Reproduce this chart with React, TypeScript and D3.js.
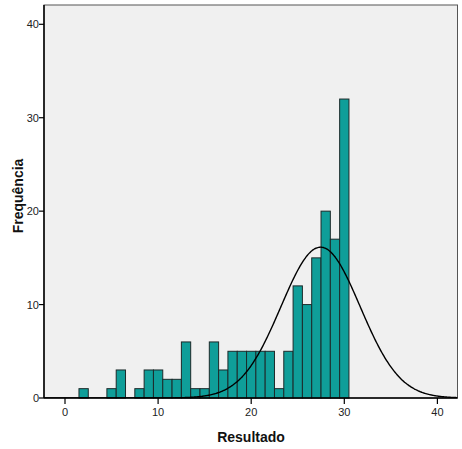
import React from "react";
import * as d3 from "d3";

const binValues = [2, 5, 6, 8, 9, 10, 11, 12, 13, 14, 15, 16, 17, 18, 19, 20, 21, 22, 23, 24, 25, 26, 27, 28, 29, 30];
const binCounts = [1, 1, 3, 1, 3, 3, 2, 2, 6, 1, 1, 6, 3, 5, 5, 5, 5, 5, 1, 5, 12, 10, 15, 20, 17, 32];
const xTicks = [0, 10, 20, 30, 40];
const yTicks = [0, 10, 20, 30, 40];
const curveMean = 27.45;
const curveSd = 4.25;
const curveN = 172;

export default function App() {
  const W = 462, H = 449;
  const left = 44, right = 457.5, top = 5, bottom = 398;
  const x = d3.scaleLinear().domain([0, 10]).range([65, 158.1]);
  const y = d3.scaleLinear().domain([0, 40]).range([bottom, 24.3]);
  const xMin = x.invert(left), xMax = x.invert(right);

  const pts: [number, number][] = [];
  for (let v = xMin; v <= xMax + 0.001; v += 0.1) {
    const d = (curveN / (curveSd * Math.sqrt(2 * Math.PI))) * Math.exp(-0.5 * ((v - curveMean) / curveSd) ** 2);
    pts.push([v, d]);
  }
  const line = d3.line<[number, number]>().x(d => x(d[0])).y(d => y(d[1])).curve(d3.curveBasis);

  return (
    <svg width={W} height={H} style={{ position: "absolute", left: 0, top: 0 }} fontFamily="Arial, Liberation Sans, sans-serif">
      <rect x={left} y={top} width={right - left} height={bottom - top} fill="#f0f0f0" stroke="#555" strokeWidth={1} />
      {binValues.map((v, i) => (
        <rect key={i} x={x(v - 0.5)} y={y(binCounts[i])} width={x(v + 0.5) - x(v - 0.5)} height={bottom - y(binCounts[i])}
          fill="#0f9e99" stroke="#1d2a2a" strokeWidth={1} />
      ))}
      <clipPath id="clip"><rect x={left} y={top} width={right - left} height={bottom - top} /></clipPath>
      <path d={line(pts) || ""} fill="none" stroke="#000" strokeWidth={1.4} clipPath="url(#clip)" />
      <line x1={left} x2={left} y1={top} y2={bottom} stroke="#000" strokeWidth={1.5} />
      <line x1={left} x2={right} y1={bottom} y2={bottom} stroke="#000" strokeWidth={1.5} />
      {yTicks.map(t => (
        <g key={t}>
          <line x1={left - 5} x2={left} y1={y(t)} y2={y(t)} stroke="#000" strokeWidth={1.2} />
          <text x={left - 5} y={y(t) + 4} fontSize={11} textAnchor="end" fill="#222">{t}</text>
        </g>
      ))}
      {xTicks.map(t => (
        <g key={t}>
          <line x1={x(t)} x2={x(t)} y1={bottom} y2={bottom + 6} stroke="#000" strokeWidth={1.2} />
          <text x={x(t)} y={416} fontSize={11} textAnchor="middle" fill="#222">{t}</text>
        </g>
      ))}
      <text x={251} y={442} fontSize={14} fontWeight="bold" textAnchor="middle" fill="#111">Resultado</text>
      <text transform="translate(23,196) rotate(-90)" fontSize={14} fontWeight="bold" textAnchor="middle" fill="#111">Frequência</text>
    </svg>
  );
}
